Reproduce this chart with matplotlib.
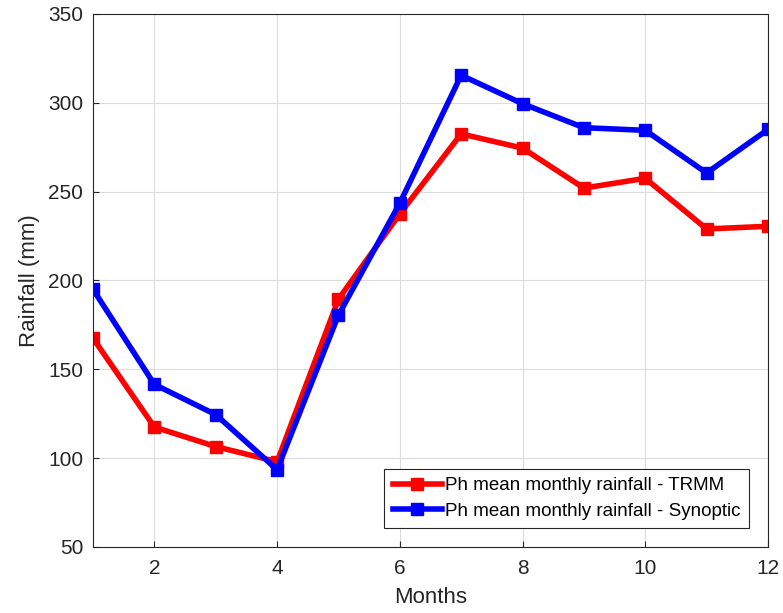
import matplotlib.pyplot as plt

# monthly rainfall
months = [1, 2, 3, 4, 5, 6, 7, 8, 9, 10, 11, 12]
trmm = [167.5, 117.5, 106.5, 98, 189.5, 237.5, 282.5, 274.5, 252, 257.5, 229, 230.5]
synoptic = [195, 141.5, 124.5, 93.5, 180.5, 243.5, 315.5, 299.5, 286, 284.5, 260.5, 285]

plt.rcParams['font.family'] = ['Liberation Sans', 'DejaVu Sans']

fig = plt.figure(figsize=(7.83, 6.13), dpi=100)
ax = fig.add_axes([0.1188, 0.1077, 0.8620, 0.8695])

ax.plot(months, trmm, color='red', lw=4, marker='s', ms=8,
        label='Ph mean monthly rainfall - TRMM')
ax.plot(months, synoptic, color='blue', lw=4, marker='s', ms=8,
        label='Ph mean monthly rainfall - Synoptic')

ax.set_xlim(1, 12)
ax.set_ylim(50, 350)
ax.set_xticks([2, 4, 6, 8, 10, 12])
ax.set_yticks(range(50, 351, 50))
ax.grid(True, color='#dcdcdc', lw=0.8)
ax.set_axisbelow(True)
ax.tick_params(labelsize=15, colors='#262626', direction='in', length=4)
ax.tick_params(axis='x', pad=9)
ax.tick_params(axis='y', pad=7)
for s in ax.spines.values():
    s.set_color('#262626')

ax.set_xlabel('Months', fontsize=16, color='#262626', labelpad=6)
ax.set_ylabel('Rainfall (mm)', fontsize=16, color='#262626', labelpad=6)

leg = ax.legend(loc='lower right', fontsize=13.5, fancybox=False, framealpha=1,
                edgecolor='#262626', handlelength=2.6, borderaxespad=1.0,
                borderpad=0.45, labelspacing=0.45, handletextpad=0.2)
leg.get_frame().set_linewidth(0.8)

fig.savefig('out.png')
